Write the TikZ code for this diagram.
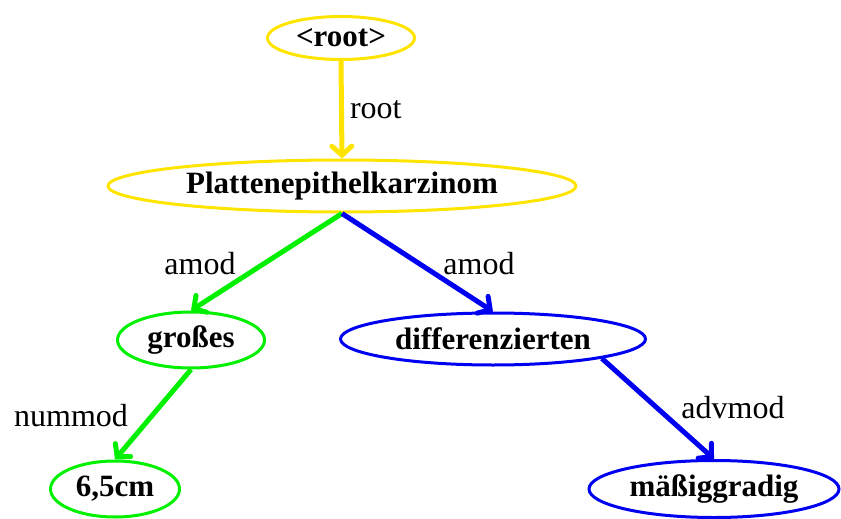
\documentclass[tikz,border=0pt]{standalone}
\usepackage{fontspec}
\setmainfont{Liberation Serif}
\usetikzlibrary{shapes.geometric,arrows.meta}
\definecolor{cy}{RGB}{255,228,0}
\definecolor{cg}{RGB}{0,240,0}
\definecolor{cb}{RGB}{0,0,240}
\begin{document}
\begin{tikzpicture}[x=1pt,y=-1pt,
  tok/.style={ellipse,draw,line width=3pt,inner sep=0pt,font=\fontsize{31}{34}\selectfont\bfseries},
  dep/.style={line width=5pt,-{Straight Barb[length=9pt,width=20pt,line cap=round]}},
  lbl/.style={font=\fontsize{32}{34}\selectfont,inner sep=0pt}]
\useasboundingbox (0,0) rectangle (841,519);
\node[tok,draw=cy,minimum width=147pt,minimum height=43pt] (root) at (341,38) {<root>};
\node[tok,draw=cy,minimum width=468pt,minimum height=52pt] (pl) at (342,186) {Plattenepithelkarzinom};
\node[tok,draw=cg,minimum width=147pt,minimum height=56pt] (gr) at (191,340) {großes};
\node[tok,draw=cb,minimum width=305pt,minimum height=52pt] (di) at (493,339) {differenzierten};
\node[tok,draw=cg,minimum width=129pt,minimum height=56pt] (cm) at (115,489) {6,5cm};
\node[tok,draw=cb,minimum width=250pt,minimum height=57pt] (ma) at (714,489) {mäßiggradig};
\draw[dep,cy] (root.south) -- (pl.north) node[lbl,text=black,pos=0.5,right=6pt] {root};
\draw[dep,cg] (pl.south) -- (gr.north);
\draw[dep,cb] (pl.south) -- (di.north);
\draw[dep,cg] (gr.south) -- (cm.north);
\draw[dep,cb] (di.south east) -- (ma.north);
\node[lbl] (l1) at (200,264) {amod};
\node[lbl] (l2) at (479,264) {amod};
\node[lbl] (l3) at (71,416) {nummod};
\node[lbl] (l4) at (733,408) {advmod};
\end{tikzpicture}
\end{document}
